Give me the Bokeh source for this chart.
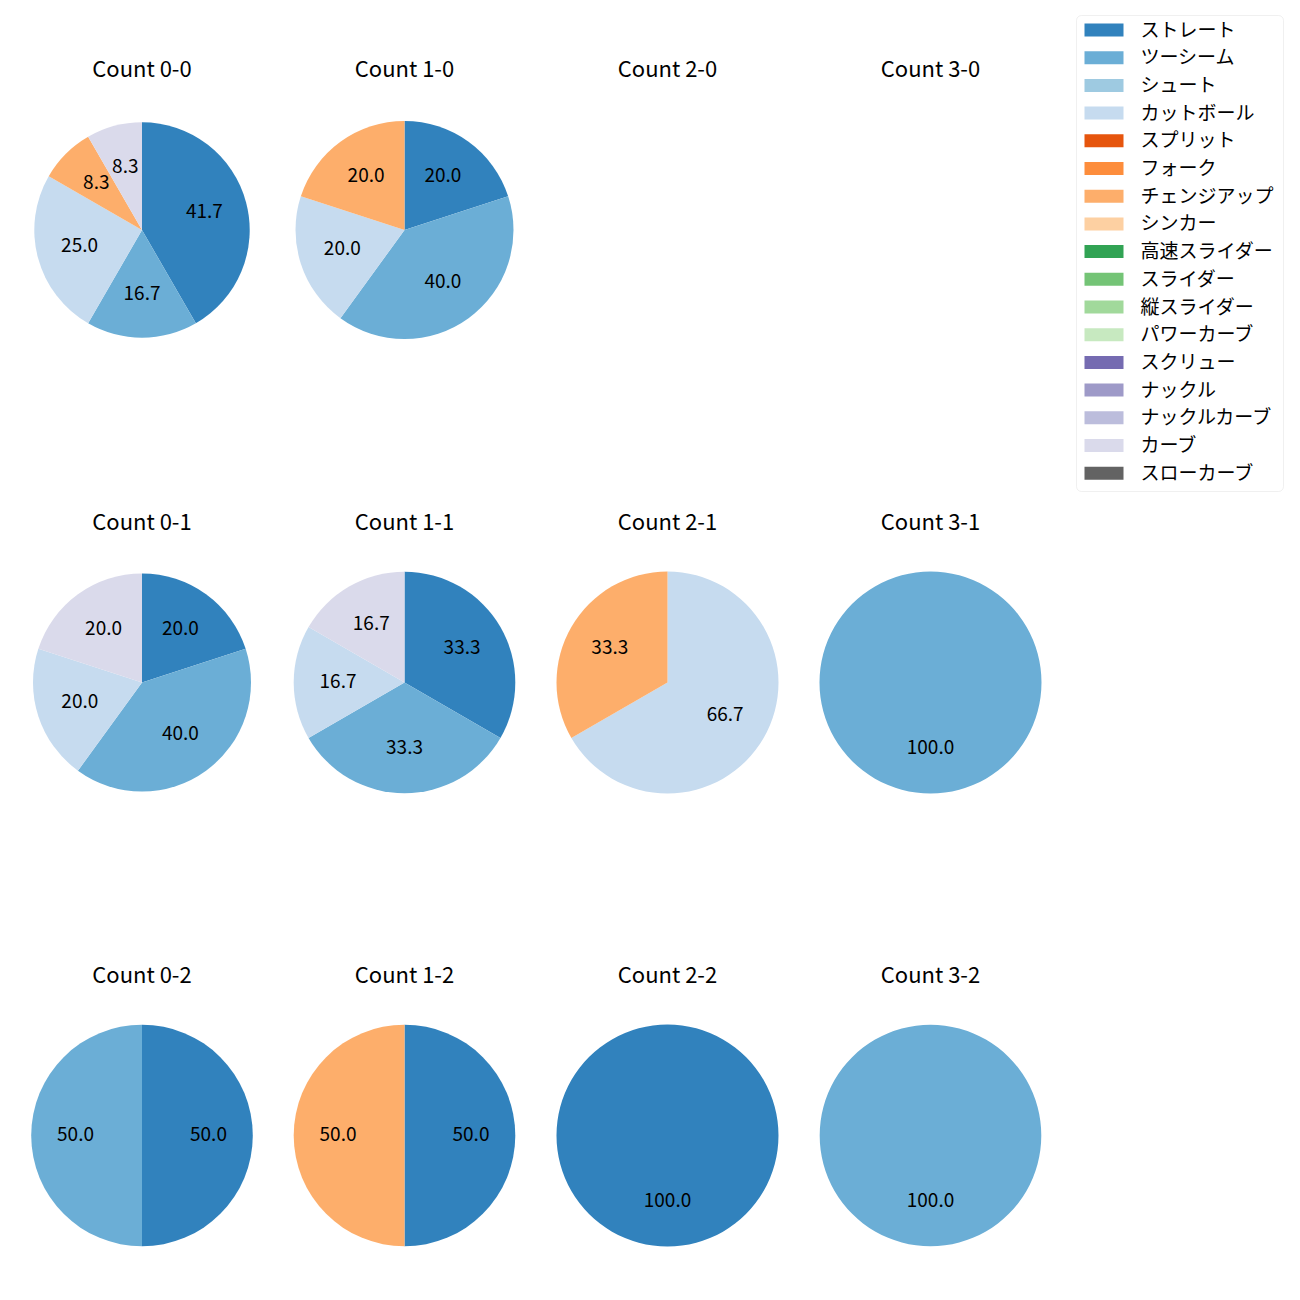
import math
from bokeh.plotting import figure
from bokeh.models import Range1d, ColumnDataSource, BoxAnnotation
from bokeh.core.properties import value
from bokeh.embed import file_html
from bokeh.resources import INLINE

# ---------------- data ----------------
pitch_types = ["ストレート", "ツーシーム", "シュート", "カットボール", "スプリット", "フォーク",
               "チェンジアップ", "シンカー", "高速スライダー", "スライダー", "縦スライダー",
               "パワーカーブ", "スクリュー", "ナックル", "ナックルカーブ", "カーブ", "スローカーブ"]
pitch_colors = ["#3182bd", "#6baed6", "#9ecae1", "#c6dbef", "#e6550d", "#fd8d3c",
                "#fdae6b", "#fdd0a2", "#31a354", "#74c476", "#a1d99b", "#c7e9c0",
                "#756bb1", "#9e9ac8", "#bcbddc", "#dadaeb", "#636363"]

# counts (balls-strikes), in grid order: row = strikes, column = balls
count_labels = ["0-0", "1-0", "2-0", "3-0",
                "0-1", "1-1", "2-1", "3-1",
                "0-2", "1-2", "2-2", "3-2"]

# number of pitches of each type per count (same order as count_labels)
n_straight = [5, 1, 0, 0, 1, 2, 0, 0, 1, 1, 1, 0]
n_twoseam  = [2, 2, 0, 0, 2, 2, 0, 1, 1, 0, 0, 1]
n_cutball  = [3, 1, 0, 0, 1, 1, 2, 0, 0, 0, 0, 0]
n_changeup = [1, 1, 0, 0, 0, 0, 1, 0, 0, 1, 0, 0]
n_curve    = [1, 0, 0, 0, 1, 1, 0, 0, 0, 0, 0, 0]

pitch_counts = {
    "ストレート": n_straight,
    "ツーシーム": n_twoseam,
    "カットボール": n_cutball,
    "チェンジアップ": n_changeup,
    "カーブ": n_curve,
}

# ---------------- layout (screen pixels) ----------------
W = H = 1300
col_x = [141.5, 404, 667, 930]
row_y = [229.5, 682, 1135]
title_offset = 161
pie_r = [107.7, 109, 111, 111,
         109, 110.8, 111, 111,
         110.8, 110.8, 111, 110.8]
FONT = "Noto Sans CJK JP"
TEXT_DY = 2.0  # small upward nudge so text centres match

def sy(y):
    return H - y

p = figure(width=W, height=H, x_range=Range1d(0, W), y_range=Range1d(0, H),
           toolbar_location=None, output_backend="svg", min_border=0)
p.axis.visible = False
p.grid.visible = False
p.outline_line_color = None
p.background_fill_color = "white"
p.border_fill_color = "white"

totals = []
for i in range(len(count_labels)):
    totals.append(sum(pitch_counts[k][i] for k in pitch_counts))

cum = [0.0] * len(count_labels)
lab_x, lab_y, lab_t = [], [], []
for name, color in zip(pitch_types, pitch_colors):
    vals = pitch_counts.get(name, [0] * len(count_labels))
    src = dict(x=[], y=[], r=[], s=[], e=[])
    for i, v in enumerate(vals):
        if totals[i] == 0 or v == 0:
            continue
        cx = col_x[i % 4]
        cy = row_y[i // 4]
        r = pie_r[i]
        f0 = cum[i]
        f1 = f0 + v / totals[i]
        cum[i] = f1
        a_start = math.radians(90 - 360 * f1)
        a_end = math.radians(90 - 360 * f0)
        if f1 - f0 > 0.9999:
            a_start = math.radians(-270 + 0.01)
            a_end = math.radians(90)
        src["x"].append(cx)
        src["y"].append(sy(cy))
        src["r"].append(r)
        src["s"].append(a_start)
        src["e"].append(a_end)
        mid = math.radians(90 - 360 * (f0 + f1) / 2)
        lab_x.append(cx + 0.6 * r * math.cos(mid))
        lab_y.append(sy(cy) + 0.6 * r * math.sin(mid) + TEXT_DY)
        lab_t.append("%.1f" % (100.0 * v / totals[i]))
    p.wedge(x="x", y="y", radius="r", start_angle="s", end_angle="e",
            direction="anticlock", source=ColumnDataSource(src),
            fill_color=color, line_color=None)

p.text(x=lab_x, y=lab_y, text=lab_t, text_font=value(FONT), text_font_size="19px",
       text_align="center", text_baseline="middle", text_color="black")

# titles
tx, ty, tt = [], [], []
for i, c in enumerate(count_labels):
    tx.append(col_x[i % 4])
    ty.append(sy(row_y[i // 4] - title_offset) + TEXT_DY)
    tt.append("Count " + c)
p.text(x=tx, y=ty, text=tt, text_font=value(FONT), text_font_size="22px",
       text_align="center", text_baseline="middle", text_color="black")

# legend
leg_left, leg_right, leg_top, leg_bottom = 1076, 1283, 15, 491
box = BoxAnnotation(left=leg_left, right=leg_right, top=sy(leg_top), bottom=sy(leg_bottom),
                    fill_color="white", fill_alpha=0.8, line_color="#cccccc", line_width=1,
                    border_radius=5, level="underlay")
p.add_layout(box)
row0, pitch = 29.5, 27.7
ly = [sy(row0 + pitch * k) for k in range(len(pitch_types))]
p.rect(x=[1103.5] * len(pitch_types), y=ly, width=39, height=13,
       fill_color=pitch_colors, line_color=None)
p.text(x=[1140] * len(pitch_types), y=[v + TEXT_DY for v in ly], text=pitch_types,
       text_font=value(FONT), text_font_size="19px", text_align="left",
       text_baseline="middle", text_color="black")

open("out.html", "w").write(file_html(p, INLINE))
